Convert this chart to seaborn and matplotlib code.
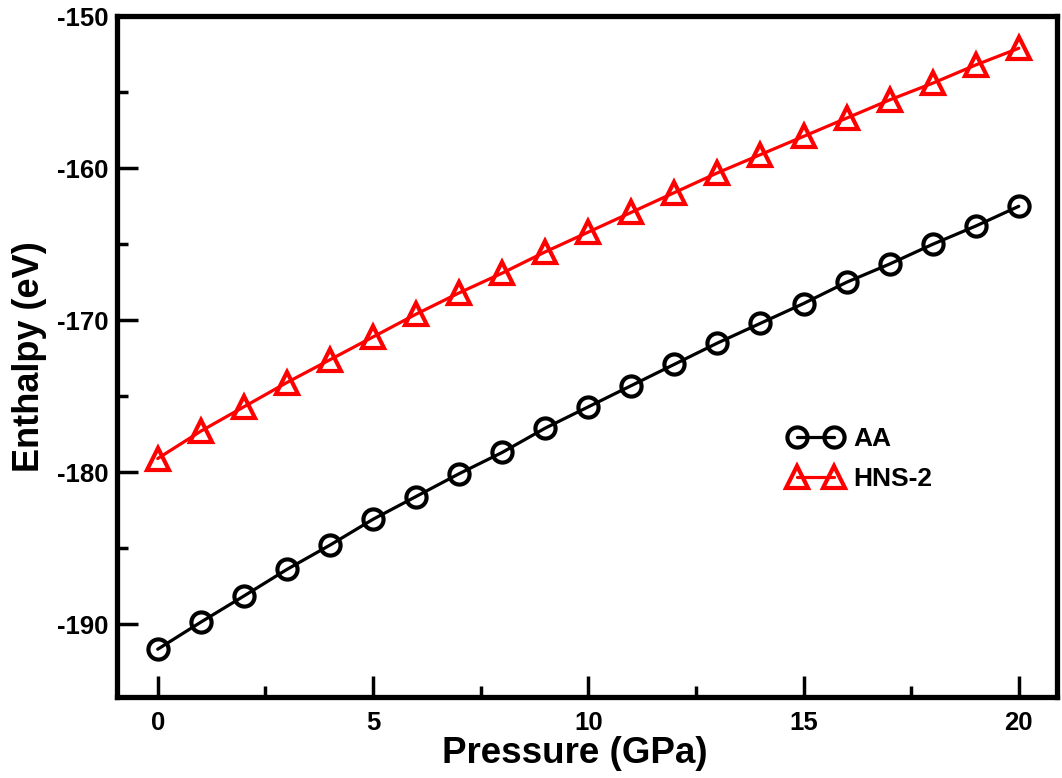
import numpy as np
import pandas as pd
import matplotlib
matplotlib.use("Agg")
import matplotlib.pyplot as plt
import seaborn as sns
from matplotlib.ticker import MultipleLocator

pressure = list(range(0, 21))
aa = [-191.65, -189.87, -188.15, -186.4, -184.8, -183.1, -181.6, -180.1, -178.7,
      -177.1, -175.7, -174.3, -172.9, -171.5, -170.2, -168.9, -167.5, -166.3,
      -165.0, -163.8, -162.5]
hns2 = [-179.1, -177.3, -175.7, -174.1, -172.6, -171.1, -169.6, -168.2, -166.9,
        -165.5, -164.2, -162.9, -161.6, -160.3, -159.1, -157.9, -156.7, -155.5,
        -154.4, -153.2, -152.1]

sns.set_style("ticks")
plt.rcParams['font.family'] = ['Liberation Sans', 'DejaVu Sans']
plt.rcParams['font.weight'] = 'bold'
plt.rcParams['axes.unicode_minus'] = False
plt.rcParams['text.color'] = 'black'
plt.rcParams['axes.labelcolor'] = 'black'
plt.rcParams['xtick.color'] = 'black'
plt.rcParams['ytick.color'] = 'black'
plt.rcParams['axes.edgecolor'] = 'black'

fig = plt.figure(figsize=(10.62, 7.78), dpi=100)
ax = fig.add_axes([0.110, 0.104, 0.885, 0.875])

df_aa = pd.DataFrame({"P": pressure, "H": aa})
df_h = pd.DataFrame({"P": pressure, "H": hns2})

sns.lineplot(data=df_aa, x="P", y="H", ax=ax, color="black", lw=2.3,
             marker="o", markersize=14.5, markerfacecolor="none",
             markeredgecolor="black", markeredgewidth=3.0, label="AA")
sns.lineplot(data=df_h, x="P", y="H", ax=ax, color="red", lw=2.3,
             marker="^", markersize=16, markerfacecolor="none",
             markeredgecolor="red", markeredgewidth=3.0, label="HNS-2")

ax.set_xlim(-0.95, 20.88)
ax.set_ylim(-194.8, -150)
ax.xaxis.set_major_locator(MultipleLocator(5))
ax.xaxis.set_minor_locator(MultipleLocator(2.5))
ax.yaxis.set_major_locator(MultipleLocator(10))
ax.yaxis.set_minor_locator(MultipleLocator(5))
ax.tick_params(which="both", direction="in", width=2.5, labelsize=18.5,
               colors="black")
ax.tick_params(axis="x", pad=10)
ax.tick_params(axis="y", pad=6)
ax.tick_params(which="major", length=15)
ax.tick_params(which="minor", length=8)
ax.tick_params(top=False, right=False)
for s in ax.spines.values():
    s.set_linewidth(3.8)
    s.set_visible(True)
    s.set_color("black")

ax.set_xlabel("Pressure (GPa)", fontsize=26.5, fontweight="bold", labelpad=1)
ax.xaxis.label.set_x(0.487)
ax.set_ylabel("Enthalpy (eV)", fontsize=26, fontweight="bold", labelpad=7)

leg = ax.legend(loc="center left", bbox_to_anchor=(0.69, 0.35), frameon=False,
                numpoints=2, handlelength=2.0, fontsize=19, handletextpad=0.45,
                labelspacing=0.6)
for t in leg.get_texts():
    t.set_fontweight("bold")
    t.set_color("black")

fig.savefig("out.png", dpi=100)
